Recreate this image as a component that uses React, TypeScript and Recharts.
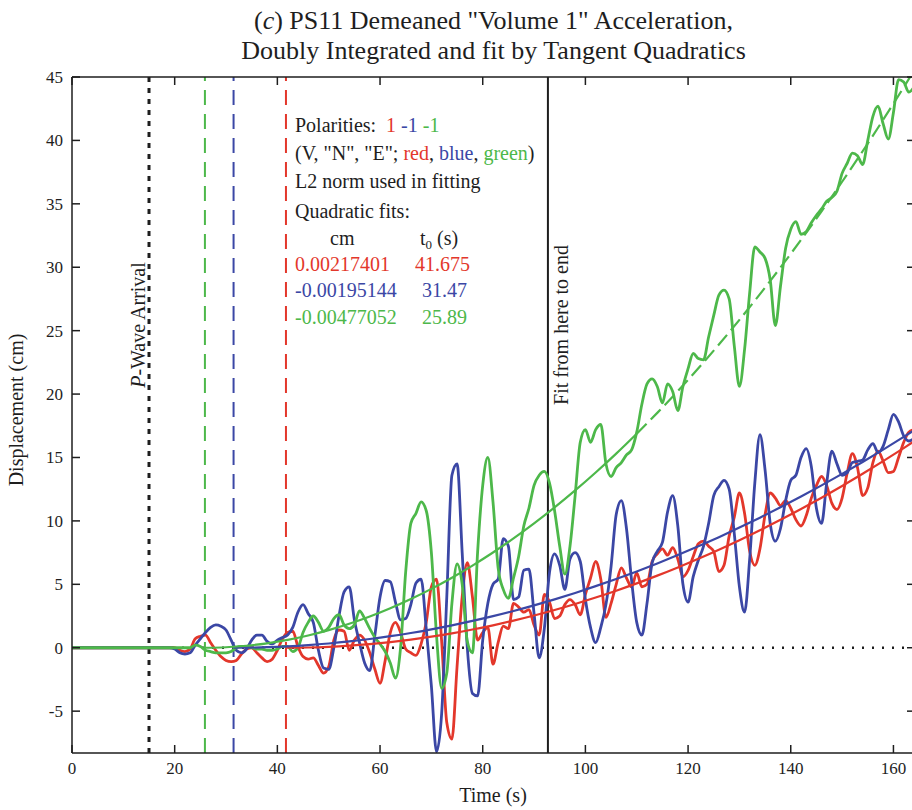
import { Line, LineChart, ReferenceLine, XAxis, YAxis } from 'recharts';

const RED = '#e3372b';
const BLUE = '#3b47a5';
const GREEN = '#4db84a';
const INK = '#1e1e1e';
const SERIF = '"Liberation Serif", "Times New Roman", serif';

// displacement (cm), one sample per second starting at t = 0
const vertical = [
  0, 0, 0, 0, 0, 0, 0, 0, 0, 0,
  0, 0, 0, 0, 0, 0, 0, 0, 0, 0,
  0, -0.2, -0.3, -0.1, 0.7, 0.9, 1.0, 0.4, -0.2, -0.7,
  -1.0, -1.1, -1.0, -0.5, -0.1, 0.0, -0.4, -0.8, -1.1, -0.9,
  -0.2, 0.7, 1.2, 1.3, 0.1, -0.7, -0.9, -0.8, -1.4, -2.0,
  -1.5, 0.6, 1.4, 1.3, -0.2, 0.6, 1.0, 0.6, -0.4, -1.7,
  -2.8, -1.0, 1.2, 2.0, 1.2, -0.1, -0.4, -0.6, 0.3, 2.0,
  4.8, 5.4, 0.5, -5.9, -7.2, -1.5, 4.0, 6.7, 4.0, 0.6,
  1.2, 1.6, -1.3, 0.4, 1.7, 1.5, 3.5, 3.2, 2.8, 3.0,
  1.8, 1.0, 4.2, 3.6, 2.3, 2.5, 3.4, 3.8, 3.4, 2.6,
  4.2, 5.5, 6.8, 5.4, 2.4, 3.5, 5.0, 6.3, 5.5, 4.8,
  5.9, 4.8, 5.0, 6.8, 7.4, 7.8, 7.3, 7.9, 7.0, 5.6,
  6.1, 7.2, 8.2, 8.4, 8.0, 7.6, 6.0, 6.5, 8.8, 10.3,
  12.2, 10.6, 7.6, 6.5, 7.8, 10.5, 12.2, 11.8, 11.2, 11.6,
  11.0, 10.1, 9.6, 10.4, 11.8, 12.8, 13.5, 12.8, 11.4, 10.9,
  11.8, 13.8, 15.3, 14.2, 12.0, 12.6, 14.6, 15.5, 14.7, 13.8,
  13.9, 15.0, 16.2, 17.0, 17.2,
];

const north = [
  0, 0, 0, 0, 0, 0, 0, 0, 0, 0,
  0, 0, 0, 0, 0, 0, 0, 0, 0, 0,
  -0.1, -0.4, -0.5, -0.4, 0.2, 0.7, 1.2, 1.6, 1.8, 1.7,
  1.4, 0.6, -0.2, -0.4, -0.1, 0.6, 1.0, 1.0, 0.5, 0.3,
  0.6, 0.8, 1.0, 1.6, 2.8, 3.4, 2.7, 2.0, -0.2, -1.6,
  -1.7, 0.0, 2.5, 4.4, 4.8, 2.2, 0.4, -1.2, -1.8, 1.0,
  4.0, 5.3, 5.2, 3.6, 2.2, 2.3, 3.4, 5.1, 5.4, 1.5,
  -3.0, -8.2, -5.2, 4.0, 13.6, 14.5, 7.5, 0.0, -3.6, -3.8,
  0.6, 3.5, 5.0, 5.4, 8.6, 8.0, 3.8, 4.0, 6.1, 6.2,
  2.7, -0.8, 1.5, 5.9, 7.4, 6.5, 4.6, 7.0, 7.5, 6.8,
  3.8, 1.6, 0.4, 1.6, 3.4, 6.4, 10.5, 11.6, 9.4, 5.3,
  2.0, 1.0, 3.5, 6.7, 7.6, 8.3, 10.7, 12.0, 9.6, 5.0,
  3.6, 5.6, 6.9, 8.0, 9.8, 12.0, 12.7, 13.2, 12.5, 9.0,
  4.8, 2.8, 7.0, 13.0, 16.8, 14.0, 9.8, 8.4, 9.4, 11.6,
  13.2, 13.6, 15.0, 15.7, 14.3, 11.0, 9.8, 13.0, 15.5, 14.5,
  13.6, 13.8, 14.6, 14.7, 14.8, 15.6, 16.1, 15.4, 15.9, 17.2,
  18.4, 17.8, 16.7, 16.3, 16.5,
];

const east = [
  0, 0, 0, 0, 0, 0, 0, 0, 0, 0,
  0, 0, 0, 0, 0, 0, 0, 0, 0, 0,
  0, 0, 0, 0, 0.2, 0.1, -0.2, -0.3, -0.4, -0.4,
  -0.4, -0.3, 0.0, 0.1, 0.1, 0.0, -0.1, -0.1, -0.2, -0.2,
  -0.1, 0.1, 0.1, -0.3, 0.0, 1.2, 2.0, 2.5, 2.0, 1.3,
  1.6, 2.3, 2.6, 1.8, 1.5, 1.8, 2.9, 2.3, 1.5, 0.8,
  0.3, -0.3, -1.2, -2.4, 0.0, 6.0, 9.8, 10.6, 11.5, 10.8,
  7.5, 1.0, -3.2, -2.0, 3.5, 6.6, 5.0, 0.5, -0.4, 7.5,
  12.8, 15.0, 11.5, 6.3, 4.6, 3.9, 5.5, 7.2, 9.6, 11.0,
  12.8, 13.6, 13.9, 13.0, 10.8, 8.0, 5.8, 8.0, 12.0, 16.2,
  17.2, 16.2, 17.2, 17.6, 14.5, 13.5, 14.2, 14.6, 15.2, 15.6,
  17.0, 19.2, 20.8, 21.2, 20.6, 19.3, 20.8, 20.2, 18.7, 20.6,
  22.0, 23.2, 22.8, 22.7, 24.5, 26.2, 27.8, 28.2, 27.5, 23.8,
  20.6, 23.5, 28.0, 31.6, 31.2, 30.7, 29.0, 25.4, 28.5, 31.5,
  33.0, 33.6, 32.6, 32.8, 33.5, 34.1, 34.6, 35.2, 35.5, 36.0,
  37.4, 38.2, 39.0, 38.8, 38.1, 40.0, 41.9, 42.7, 41.3, 40.1,
  42.2, 44.8, 44.6, 43.8, 44.2,
];

// tangent quadratic fits
const verticalFitTime = [41.675, 46, 50, 54, 58, 62, 66, 70, 74, 78, 82, 86, 90, 94, 98, 102, 106, 110, 114, 118, 122, 126, 130, 134, 138, 142, 146, 150, 154, 158, 162, 166];
const verticalFitCm = [0, 0.02, 0.075, 0.165, 0.29, 0.449, 0.643, 0.872, 1.136, 1.434, 1.768, 2.136, 2.538, 2.976, 3.449, 3.956, 4.498, 5.075, 5.686, 6.332, 7.014, 7.73, 8.48, 9.266, 10.086, 10.941, 11.831, 12.755, 13.715, 14.709, 15.738, 16.802];
const northFitTime = [31.47, 34, 38, 42, 46, 50, 54, 58, 62, 66, 70, 74, 78, 82, 86, 90, 94, 98, 102, 106, 110, 114, 118, 122, 126, 130, 134, 138, 142, 146, 150, 154, 158, 162, 166];
const northFitCm = [0, 0.006, 0.042, 0.108, 0.206, 0.335, 0.495, 0.687, 0.909, 1.163, 1.449, 1.765, 2.112, 2.491, 2.901, 3.343, 3.815, 4.319, 4.854, 5.42, 6.017, 6.646, 7.306, 7.997, 8.719, 9.473, 10.257, 11.073, 11.92, 12.799, 13.708, 14.649, 15.621, 16.625, 17.659];
const eastFitTime = [25.89, 30, 34, 38, 42, 46, 50, 54, 58, 62, 66, 70, 74, 78, 82, 86, 90, 94, 98, 102, 106, 110, 114, 118, 122, 126, 130, 134, 138, 142, 146, 150, 154, 158, 162, 166];
const eastFitCm = [0, 0.04, 0.157, 0.35, 0.619, 0.965, 1.387, 1.885, 2.459, 3.11, 3.837, 4.641, 5.521, 6.477, 7.509, 8.618, 9.804, 11.065, 12.403, 13.817, 15.308, 16.874, 18.518, 20.237, 22.033, 23.905, 25.854, 27.879, 29.98, 32.157, 34.41, 36.741, 39.147, 41.63, 44.189, 46.824];

const xTicks = [0, 20, 40, 60, 80, 100, 120, 140, 160];
const yTicks = [-5, 0, 5, 10, 15, 20, 25, 30, 35, 40, 45];

const pWaveArrival = 15;
const fitStart = 92.7;
const eastFitDashedFrom = 110;

const polarities = ['1', '-1', '-1'];
const fitCm = ['0.00217401', '-0.00195144', '-0.00477052'];
const fitT0 = ['41.675', '31.47', '25.89'];
const t0Lines = [25.89, 31.47, 41.675];
const colors = [RED, BLUE, GREEN];

const samples = (vals: number[]) => vals.map((cm, i) => ({ t: i, cm }));
const fit = (ts: number[], vs: number[]) => ts.map((t, i) => ({ t, cm: vs[i] }));

const abs = (left: number, top: number, extra: object = {}) => ({
  position: 'absolute' as const,
  left,
  top,
  whiteSpace: 'nowrap' as const,
  ...extra,
});

const XTick = ({ x, y, payload }: any) => (
  <text x={x} y={y} dy={13} textAnchor="middle" fill={INK} fontSize={17} fontFamily={SERIF}>
    {payload.value}
  </text>
);

const YTick = ({ x, y, payload }: any) => (
  <text x={x} y={y} dy={6} textAnchor="end" fill={INK} fontSize={17} fontFamily={SERIF}>
    {payload.value}
  </text>
);

export default function App() {
  const eastFit = fit(eastFitTime, eastFitCm);
  const eastFitSolid = eastFit.filter((p) => p.t <= eastFitDashedFrom);
  const eastFitDashed = eastFit.filter((p) => p.t >= eastFitDashedFrom);
  const txt = { fontFamily: SERIF, fontSize: 20, color: INK, lineHeight: '20px' };
  const rowTop = [115, 143, 171, 201, 228, 254, 280, 307];

  return (
    <div style={{ position: 'absolute', left: 0, top: 0, width: 912, height: 810, overflow: 'hidden', background: '#fff', fontFamily: SERIF }}>
      <LineChart width={916} height={810} margin={{ top: 76, right: 0, bottom: 17, left: 0 }} style={{ fontFamily: SERIF }}>
        <XAxis dataKey="t" type="number" domain={[0, 164.2]} ticks={xTicks} allowDataOverflow
          tickSize={-8} tickMargin={16} tick={XTick} height={40}
          axisLine={{ stroke: INK, strokeWidth: 1.5 }} tickLine={{ stroke: INK, strokeWidth: 1.5 }} />
        <XAxis xAxisId="top" orientation="top" dataKey="t" type="number" domain={[0, 164.2]} ticks={xTicks}
          allowDataOverflow tickSize={-8} tickFormatter={() => ''} height={1}
          axisLine={{ stroke: INK, strokeWidth: 1.5 }} tickLine={{ stroke: INK, strokeWidth: 1.5 }} />
        <YAxis type="number" domain={[-8.3, 45]} ticks={yTicks} allowDataOverflow width={72}
          tickSize={-8} tickMargin={17} tick={YTick}
          axisLine={{ stroke: INK, strokeWidth: 1.5 }} tickLine={{ stroke: INK, strokeWidth: 1.5 }} />
        <YAxis yAxisId="right" orientation="right" type="number" domain={[-8.3, 45]} ticks={yTicks}
          allowDataOverflow width={1} tickSize={-8} tickFormatter={() => ''}
          axisLine={{ stroke: INK, strokeWidth: 1.5 }} tickLine={{ stroke: INK, strokeWidth: 1.5 }} />

        <ReferenceLine y={0} stroke={INK} strokeWidth={2.4} strokeDasharray="2 8" />
        <ReferenceLine x={pWaveArrival} stroke={INK} strokeWidth={3} strokeDasharray="5 6" />
        {t0Lines.map((t, i) => (
          <ReferenceLine key={t} x={t} stroke={[GREEN, BLUE, RED][i]} strokeWidth={2} strokeDasharray="15 9" />
        ))}
        <ReferenceLine x={fitStart} stroke={INK} strokeWidth={2} />

        <Line data={samples(vertical)} dataKey="cm" type="monotone" stroke={RED} strokeWidth={2.8} dot={false} isAnimationActive={false} />
        <Line data={samples(north)} dataKey="cm" type="monotone" stroke={BLUE} strokeWidth={2.8} dot={false} isAnimationActive={false} />
        <Line data={samples(east)} dataKey="cm" type="monotone" stroke={GREEN} strokeWidth={2.8} dot={false} isAnimationActive={false} />
        <Line data={fit(verticalFitTime, verticalFitCm)} dataKey="cm" type="monotone" stroke={RED} strokeWidth={2.2} dot={false} isAnimationActive={false} />
        <Line data={fit(northFitTime, northFitCm)} dataKey="cm" type="monotone" stroke={BLUE} strokeWidth={2.2} dot={false} isAnimationActive={false} />
        <Line data={eastFitSolid} dataKey="cm" type="monotone" stroke={GREEN} strokeWidth={2.2} dot={false} isAnimationActive={false} />
        <Line data={eastFitDashed} dataKey="cm" type="monotone" stroke={GREEN} strokeWidth={2.2} strokeDasharray="14 6" dot={false} isAnimationActive={false} />
      </LineChart>

      <div style={abs(72, 6, { width: 843, textAlign: 'center', fontSize: 26, lineHeight: '30px', color: INK })}>
        (<i>c</i>) PS11 Demeaned "Volume 1" Acceleration,
        <br />
        Doubly Integrated and fit by Tangent Quadratics
      </div>

      <div style={abs(16, 410, { ...txt, transform: 'translate(-50%, -50%) rotate(-90deg)' })}>Displacement (cm)</div>
      <div style={abs(493, 795, { ...txt, transform: 'translate(-50%, -50%)' })}>Time (s)</div>
      <div style={abs(138, 325, { ...txt, transform: 'translate(-50%, -50%) rotate(-90deg)' })}><i>P</i>-Wave Arrival</div>
      <div style={abs(561, 325, { ...txt, transform: 'translate(-50%, -50%) rotate(-90deg)' })}>Fit from here to end</div>

      <div style={abs(295, rowTop[0], txt)}>
        Polarities:&nbsp; {polarities.map((p, i) => (
          <span key={i} style={{ color: colors[i] }}>{p} </span>
        ))}
      </div>
      <div style={abs(295, rowTop[1], txt)}>
        (V, "N", "E"; <span style={{ color: RED }}>red</span>, <span style={{ color: BLUE }}>blue</span>, <span style={{ color: GREEN }}>green</span>)
      </div>
      <div style={abs(295, rowTop[2], txt)}>L2 norm used in fitting</div>
      <div style={abs(295, rowTop[3], txt)}>Quadratic fits:</div>
      <div style={abs(330, rowTop[4], txt)}>cm</div>
      <div style={abs(420, rowTop[4], txt)}>t<sub style={{ fontSize: 13, verticalAlign: '-4px' }}>0</sub> (s)</div>
      {fitCm.map((c, i) => (
        <div key={c}>
          <div style={abs(295, rowTop[5 + i], { ...txt, color: colors[i] })}>{c}</div>
          <div style={abs(i === 0 ? 415 : 422, rowTop[5 + i], { ...txt, color: colors[i] })}>{fitT0[i]}</div>
        </div>
      ))}
    </div>
  );
}
